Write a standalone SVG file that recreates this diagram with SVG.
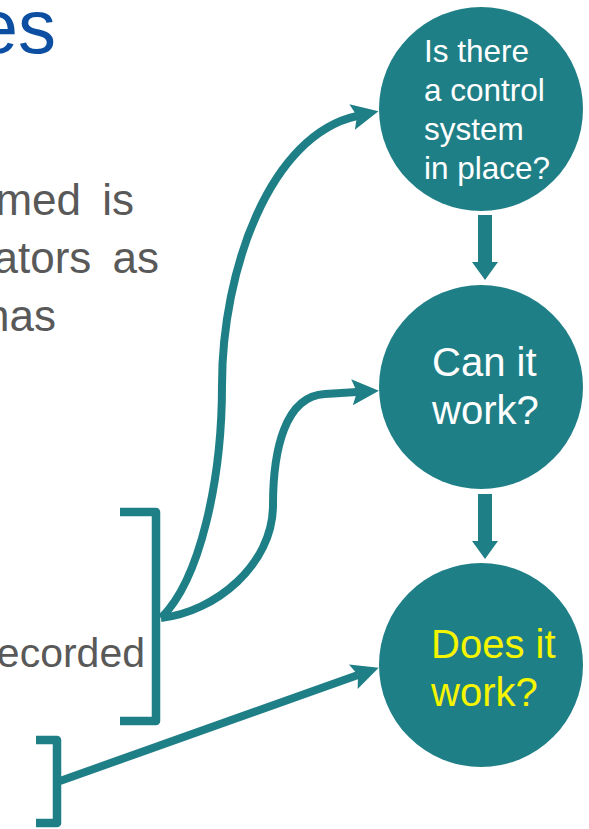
<svg xmlns="http://www.w3.org/2000/svg" width="589" height="829" viewBox="0 0 589 829">
<style>
text{font-family:"Liberation Sans",Arial,sans-serif}
.c{fill:#1f7f86}
.w{fill:#fff}
.s{font-size:31.5px}
.l{font-size:40px}
.g{fill:#595959;font-size:44px;text-anchor:end;word-spacing:9px}
.line{fill:none;stroke:#1f7f86;stroke-width:8;stroke-linejoin:round}
.br{stroke-width:8.5}
.ah{fill:#1f7f86}
</style>
<defs>
<marker id="a" markerUnits="userSpaceOnUse" markerWidth="32" markerHeight="32" refX="5" refY="16" orient="auto"><path class="ah" d="M0 3L27 16L0 29L5 16Z"/></marker>
</defs>
<rect width="589" height="829" fill="#fff"/>
<text x="56" y="53" font-size="76" fill="#0b4ea2" text-anchor="end">es</text>
<text class="g" x="134" y="215">med is</text>
<text class="g" x="159" y="273">ators as</text>
<text class="g" x="56" y="331">has</text>
<text x="145" y="667" font-size="41" fill="#595959" text-anchor="end">recorded</text>
<g id="connectors">
<path class="line br" d="M120 512H156V721H120"/>
<path class="line br" d="M36 740H57V823H36"/>
<path class="line" d="M161 618C200 580 222 480 222 385C222 270 270 135 357 116" marker-end="url(#a)"/>
<path class="line" d="M161 618C215 612 273 565 273 505C273 450 285 396 325 394L357 392" marker-end="url(#a)"/>
<path class="line" d="M60 781L358 675" marker-end="url(#a)"/>
<path class="ah" d="M478 215H492V262H498L485 280L472 262H478Z"/>
<path class="ah" d="M478 494H492V541H498L485 559L472 541H478Z"/>
</g>
<g id="node1"><circle class="c" cx="481" cy="109" r="102"/>
<g class="s w"><text x="424" y="62">Is there</text><text x="424" y="101">a control</text><text x="424" y="140">system</text><text x="424" y="179">in place?</text></g></g>
<g id="node2"><circle class="c" cx="481" cy="387" r="102"/>
<g class="l w"><text x="432" y="376">Can it</text><text x="432" y="424">work?</text></g></g>
<g id="node3"><circle class="c" cx="481" cy="665" r="102"/>
<g class="l" fill="#f5f500"><text x="431" y="658">Does it</text><text x="431" y="706">work?</text></g></g>
</svg>
